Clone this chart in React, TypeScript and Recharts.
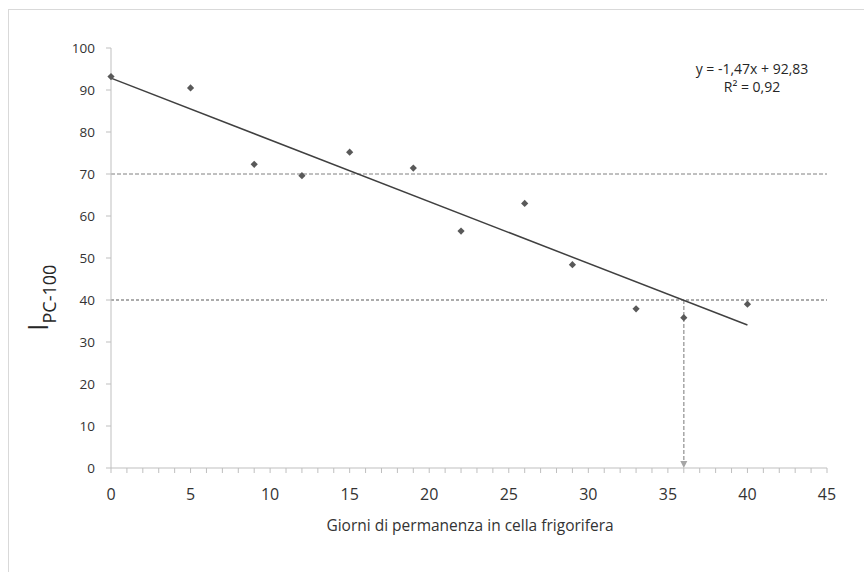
import React from 'react';
import { ScatterChart, Scatter, XAxis, YAxis, ReferenceLine } from 'recharts';

// Measured points: days in cold storage vs I_PC-100
const days = [0, 5, 9, 12, 15, 19, 22, 26, 29, 33, 36, 40];
const ipc = [93.2, 90.5, 72.3, 69.6, 75.2, 71.4, 56.4, 63.0, 48.4, 37.9, 35.8, 39.0];

// Trend line endpoints (from y = -1,47x + 92,83 over 0..40)
const trendX = [0, 40];
const trendY = [92.83, 34.03];

// Threshold lines and marker
const thresholds = [70, 40];
const markerDay = 36;

const xTicks = [0, 1, 2, 3, 4, 5, 6, 7, 8, 9, 10, 11, 12, 13, 14, 15, 16, 17, 18, 19, 20, 21, 22, 23, 24, 25, 26, 27, 28, 29, 30, 31, 32, 33, 34, 35, 36, 37, 38, 39, 40, 41, 42, 43, 44, 45];
const yTicks = [0, 10, 20, 30, 40, 50, 60, 70, 80, 90, 100];

const equationLines = ['y = -1,47x + 92,83', 'R² = 0,92'];
const xTitle = 'Giorni di permanenza in cella frigorifera';

const points = days.map((d, i) => ({ x: d, y: ipc[i] }));
const trend = trendX.map((d, i) => ({ x: d, y: trendY[i] }));
const arrow = [{ x: markerDay, y: 0 }];

const FONT = '"Open Sans", "DejaVu Sans", sans-serif';

const Diamond = (props: any) => {
  const { cx, cy } = props;
  const r = 3.6;
  return (
    <polygon
      points={`${cx},${cy - r} ${cx + r},${cy} ${cx},${cy + r} ${cx - r},${cy}`}
      fill="#595959"
    />
  );
};

const ArrowHead = (props: any) => {
  const { cx, cy } = props;
  return (
    <polygon points={`${cx - 3.5},${cy - 7} ${cx + 3.5},${cy - 7} ${cx},${cy}`} fill="#a6a6a6" />
  );
};

const Empty = () => <g />;

export default function App() {
  return (
    <div style={{ position: 'absolute', left: 0, top: 0, width: 864, height: 572, background: '#fff' }}>
      <div
        style={{
          position: 'absolute',
          left: 8,
          top: 9,
          right: 0,
          bottom: 0,
          borderLeft: '1px solid #d9d9d9',
          borderTop: '1px solid #d9d9d9',
        }}
      />
      <div style={{ position: 'absolute', left: 0, top: 0 }}>
        <ScatterChart
          width={864}
          height={572}
          margin={{ top: 48, right: 37, left: 61, bottom: 64 }}
        >
          <XAxis
            type="number"
            dataKey="x"
            domain={[0, 45]}
            ticks={xTicks}
            interval={0}
            height={40}
            tickFormatter={(v: number) => (v % 5 === 0 ? String(v) : '')}
            tick={{ fill: '#333333', fontSize: 16, fontFamily: FONT }}
            tickSize={5}
            tickMargin={16}
            axisLine={{ stroke: '#bfbfbf' }}
            tickLine={{ stroke: '#bfbfbf' }}
            label={{
              content: () => (
                <text x={470} y={531} textAnchor="middle" fontFamily={FONT} fontSize={15.5} fill="#333333">
                  {xTitle}
                </text>
              ),
            }}
          />
          <YAxis
            type="number"
            dataKey="y"
            domain={[0, 100]}
            ticks={yTicks}
            interval={0}
            width={50}
            tick={{ fill: '#333333', fontSize: 13.5, fontFamily: FONT }}
            tickSize={5}
            tickMargin={11}
            axisLine={{ stroke: '#bfbfbf' }}
            tickLine={{ stroke: '#bfbfbf' }}
            label={{
              content: () => (
                <text
                  x={48}
                  y={331}
                  transform="rotate(-90 48 331)"
                  fontFamily={FONT}
                  fill="#262626"
                >
                  <tspan fontSize={27}>I</tspan>
                  <tspan fontSize={18} dy={8}>PC-100</tspan>
                </text>
              ),
            }}
          />
          <ReferenceLine y={thresholds[0]} stroke="#808080" strokeDasharray="4 2" strokeWidth={1} />
          <ReferenceLine y={thresholds[1]} stroke="#595959" strokeDasharray="3 2" strokeWidth={1} />
          <ReferenceLine
            segment={[
              { x: markerDay, y: thresholds[1] },
              { x: markerDay, y: 0 },
            ]}
            stroke="#a6a6a6"
            strokeDasharray="4 2"
            strokeWidth={1.5}
          />
          <Scatter
            data={trend}
            line={{ stroke: '#404040', strokeWidth: 1.5 }}
            lineType="joint"
            shape={Empty}
            isAnimationActive={false}
          />
          <Scatter data={points} shape={Diamond} isAnimationActive={false} />
          <Scatter data={arrow} shape={ArrowHead} isAnimationActive={false} />
          <ReferenceLine
            y={100}
            stroke="none"
            label={{
              content: () => (
                <text textAnchor="middle" fontFamily={FONT} fontSize={14} fill="#262626">
                  <tspan x={752} y={74}>{equationLines[0]}</tspan>
                  <tspan x={752} y={92}>{equationLines[1]}</tspan>
                </text>
              ),
            }}
          />
        </ScatterChart>
      </div>
    </div>
  );
}
